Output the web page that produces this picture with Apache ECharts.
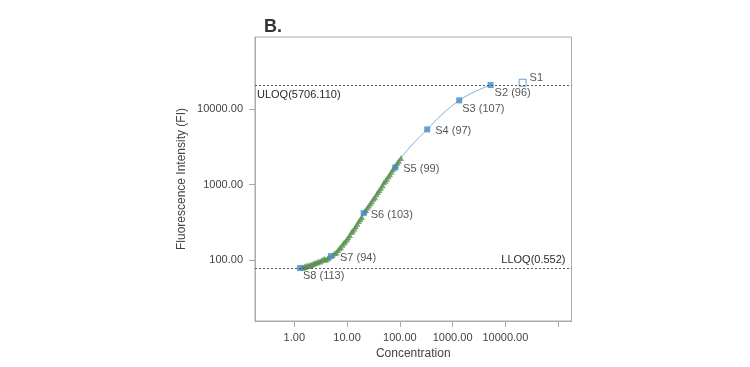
<!DOCTYPE html>
<html>
<head>
<meta charset="utf-8">
<script src="https://cdn.jsdelivr.net/npm/echarts@6/dist/echarts.min.js"></script>
<style>
html,body{margin:0;padding:0;background:#fff;}
#chart{width:750px;height:367px;}
</style>
</head>
<body>
<div id="chart"></div>
<script>
// ---- data ----
var xTickValues = [1, 10, 100, 1000, 10000, 100000];
var xLabelValues = [1, 10, 100, 1000, 10000];
var yTickValues = [100, 1000, 10000];

var standardNames = ['S8 (113)', 'S7 (94)', 'S6 (103)', 'S5 (99)', 'S4 (97)', 'S3 (107)', 'S2 (96)'];
var standardConc  = [1.28, 4.96, 20.6, 81.8, 330, 1334, 5250];
var standardFI    = [78.3, 113, 419, 1690, 5380, 13030, 20800];

var s1Name = 'S1';
var s1Conc = [21200];
var s1FI   = [22300];

var curveConc = [1.28, 1.59, 2.07, 2.69, 3.50, 4.96, 6.73, 8.73, 11.35, 14.7, 19.1, 26.0, 33.8, 43.9, 57.0, 74.0, 96.2, 162, 330, 655, 1334, 2645, 5250];
var curveFI   = [78.3, 82, 86.5, 93, 101.5, 113, 136, 168, 214, 282, 377, 527, 693, 912, 1200, 1580, 2079, 3240, 5380, 8710, 13030, 17060, 20800];

var sampleConc = [1.40, 1.48, 1.55, 1.62, 1.70, 1.82, 1.90, 2.00, 2.10, 2.25, 2.36, 2.50, 2.69, 2.85, 3.07, 3.25, 3.50, 3.75, 4.00, 4.30, 4.54, 5.40, 5.90, 6.30, 6.73, 7.20, 7.66, 8.20, 8.73, 9.30, 9.96, 10.6, 11.35, 12.1, 12.9, 13.8, 14.7, 15.7, 16.8, 17.9, 19.1, 21.5, 22.8, 24.3, 26.0, 27.8, 29.6, 31.6, 33.8, 36.2, 38.5, 41.0, 43.9, 47.0, 50.0, 53.5, 57.0, 61.0, 65.0, 69.5, 74.0, 79.0, 84.4, 90.0, 96.2, 105];
var sampleFI   = [80.5, 79, 82.5, 81, 84, 85, 83.5, 87, 86, 89, 90, 92, 93, 96, 95.5, 99, 101.5, 104, 101, 106, 108, 118, 124, 126, 136, 143, 149, 160, 170, 178, 188, 201, 214, 236, 246, 262, 280, 303, 329, 350, 372, 440, 459, 495, 530, 566, 600, 650, 680, 745, 796, 850, 905, 980, 1070, 1120, 1190, 1290, 1370, 1480, 1590, 1700, 1800, 1940, 2070, 2250];

var uloqLabel = 'ULOQ(5706.110)';
var lloqLabel = 'LLOQ(0.552)';
var uloqFI = 20800;
var lloqFI = 78.3;

// ---- label placement (style, not data) ----
var labelOffsets = [[-3, 8], [3, 2], [1, 2], [2, 2], [2, 2], [-3, 9], [-2, 8]];

function zip(a, b) { return a.map(function (v, i) { return [v, b[i]]; }); }

var chart = echarts.init(document.getElementById('chart'), null, {renderer: 'canvas'});
var FONT = '"Liberation Sans", Arial, Helvetica, sans-serif';
var blue = '#4588c9';

var stdData = standardConc.map(function (c, i) {
  return {
    value: [c, standardFI[i]],
    name: standardNames[i],
    label: {offset: labelOffsets[i]}
  };
});

var option = {
  animation: false,
  backgroundColor: '#fff',
  title: {
    text: 'B.',
    left: 259, top: 13,
    textStyle: {fontFamily: FONT, fontSize: 18, fontWeight: 'bold', color: '#333'}
  },
  grid: {
    left: 255, right: 178.5, top: 37, bottom: 46,
    show: true, borderColor: '#aaa', borderWidth: 1, backgroundColor: 'transparent'
  },
  xAxis: {
    type: 'log', logBase: 10, min: 0.18, max: 179000,
    name: 'Concentration', nameLocation: 'middle', nameGap: 27,
    nameTextStyle: {fontFamily: FONT, fontSize: 12, color: '#444'},
    axisLine: {show: true, lineStyle: {color: '#aaa'}},
    axisTick: {show: true, length: 6, lineStyle: {color: '#aaa'}, customValues: xTickValues},
    axisLabel: {
      fontFamily: FONT, fontSize: 11, color: '#444', margin: 11,
      customValues: xLabelValues,
      formatter: function (v) { return Number(v).toFixed(2); }
    },
    splitLine: {show: false}
  },
  yAxis: {
    type: 'log', logBase: 10, min: 15.6, max: 90000,
    name: 'Fluorescence Intensity (FI)', nameLocation: 'middle', nameGap: 67,
    nameTextStyle: {fontFamily: FONT, fontSize: 12, color: '#444'},
    axisLine: {show: true, lineStyle: {color: '#aaa'}},
    axisTick: {show: true, length: 6, lineStyle: {color: '#aaa'}, customValues: yTickValues},
    axisLabel: {
      fontFamily: FONT, fontSize: 11, color: '#444', margin: 12,
      customValues: yTickValues,
      formatter: function (v) { return Number(v).toFixed(2); }
    },
    splitLine: {show: false}
  },
  series: [
    {
      type: 'line',
      data: zip(curveConc, curveFI),
      smooth: 0.3,
      showSymbol: false,
      symbol: 'none',
      lineStyle: {color: '#7fb1da', width: 1},
      z: 2,
      markLine: {
        silent: true,
        symbol: 'none',
        lineStyle: {color: '#555', type: [2, 2], width: 1},
        data: [
          {yAxis: uloqFI, label: {show: true, formatter: uloqLabel, position: 'insideStartBottom', distance: [2, 4], fontFamily: FONT, fontSize: 11, color: '#2a2a2a'}},
          {yAxis: lloqFI, label: {show: true, formatter: lloqLabel, position: 'insideEndTop', distance: [6, 3], fontFamily: FONT, fontSize: 11, color: '#2a2a2a'}}
        ]
      }
    },
    {
      type: 'scatter',
      data: zip(sampleConc, sampleFI),
      symbol: 'triangle',
      symbolSize: 6,
      itemStyle: {color: '#5a9150'},
      z: 3
    },
    {
      type: 'scatter',
      data: stdData,
      symbol: 'rect',
      symbolSize: 6,
      itemStyle: {color: blue},
      label: {
        show: true, position: 'right', distance: 3,
        formatter: '{b}', fontFamily: FONT, fontSize: 11, color: '#2a2a2a'
      },
      z: 4
    },
    {
      type: 'scatter',
      data: [{value: [s1Conc[0], s1FI[0]], name: s1Name}],
      symbol: 'rect',
      symbolSize: 7,
      itemStyle: {color: '#fff', borderColor: blue, borderWidth: 1},
      label: {
        show: true, position: 'right', distance: 3, offset: [0, -5],
        formatter: '{b}', fontFamily: FONT, fontSize: 11, color: '#2a2a2a'
      },
      z: 4
    }
  ]
};
chart.setOption(option);
</script>
</body>
</html>
